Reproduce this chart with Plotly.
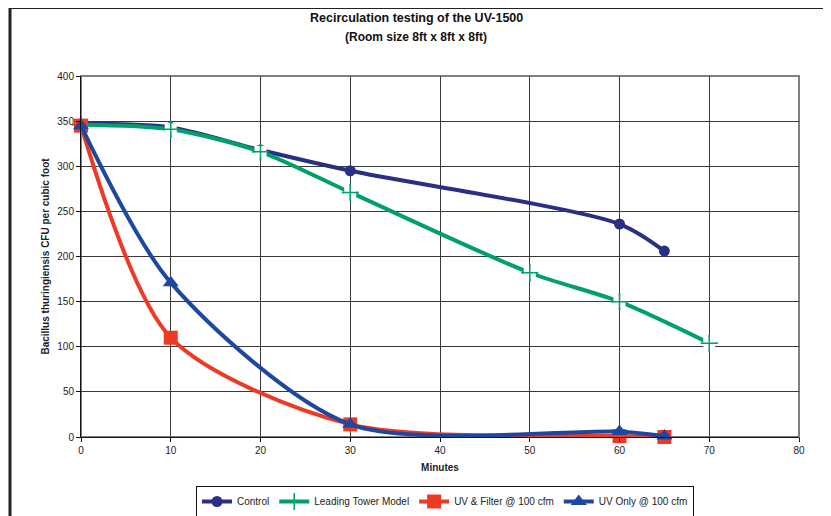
import plotly.graph_objects as go

minutes_control = [0, 10, 20, 30, 60, 65]
control = [347, 343, 318, 295, 236, 206]

minutes_tower = [0, 10, 20, 30, 50, 60, 70]
tower = [346, 341, 316, 271, 182, 150, 104]

minutes_uv = [0, 10, 30, 60, 65]
uv_filter = [345, 110, 14, 1, 0]
uv_only = [345, 171, 14, 6, 1]

x_ticks = [0, 10, 20, 30, 40, 50, 60, 70, 80]
y_ticks = [0, 50, 100, 150, 200, 250, 300, 350, 400]

title_lines = ["Recirculation testing of the UV-1500", "(Room size 8ft x 8ft x 8ft)"]

navy = "#2A2F86"
green = "#00A06A"
red = "#EE3A24"
blue = "#1E48A0"

fig = go.Figure()
fig.add_trace(go.Scatter(x=minutes_control, y=control, name="Control", mode="lines+markers",
                         line=dict(color=navy, width=4, shape="spline", smoothing=0.8),
                         marker=dict(symbol="circle", size=11, color=navy), cliponaxis=False))
fig.add_trace(go.Scatter(x=minutes_tower, y=tower, name="Leading Tower Model", mode="lines+markers",
                         line=dict(color=green, width=4, shape="spline", smoothing=0.8),
                         marker=dict(symbol="cross-thin", size=12, color=green,
                                     line=dict(color=green, width=1.5)), cliponaxis=False))
# white box behind each plus marker (as in the original)
fig.add_trace(go.Scatter(x=minutes_tower, y=tower, mode="markers", showlegend=False, hoverinfo="skip",
                         marker=dict(symbol="square", size=12, color="white"), cliponaxis=False))
fig.add_trace(go.Scatter(x=minutes_tower, y=tower, mode="markers", showlegend=False, hoverinfo="skip",
                         marker=dict(symbol="cross-thin", size=12, color=green,
                                     line=dict(color=green, width=1.5)), cliponaxis=False))
fig.add_trace(go.Scatter(x=minutes_uv, y=uv_filter, name="UV & Filter @ 100 cfm", mode="lines+markers",
                         line=dict(color=red, width=4, shape="spline", smoothing=0.8),
                         marker=dict(symbol="square", size=14, color=red), cliponaxis=False))
fig.add_trace(go.Scatter(x=minutes_uv, y=uv_only, name="UV Only @ 100 cfm", mode="lines+markers",
                         line=dict(color=blue, width=4, shape="spline", smoothing=0.8),
                         marker=dict(symbol="triangle-up", size=14, color=blue), cliponaxis=False))

# page has an 8px body margin; positions below are in page pixels
L, R, T, B = 73, 32, 68, 79
W, H = 823, 508
PL, PB = 81, 437
pw, ph = 718, 361

def px(xp):
    return (xp - PL) / pw

def py(yp):
    return (PB - yp) / ph

shapes = [
    dict(type="rect", xref="paper", yref="paper", x0=0, x1=1, y0=0, y1=1,
         line=dict(color="#808080", width=2), layer="below"),
    dict(type="line", xref="paper", yref="paper", x0=px(9), x1=px(840), y0=py(7.5), y1=py(7.5),
         line=dict(color="#222222", width=3)),
    dict(type="line", xref="paper", yref="paper", x0=px(10), x1=px(10), y0=py(7.5), y1=py(530),
         line=dict(color="#222222", width=3)),
]

annotations = [
    dict(text="<b>%s</b>" % title_lines[0], xref="paper", yref="paper", x=px(416), y=py(18),
         xanchor="center", yanchor="middle", showarrow=False, font=dict(size=12.5, color="#111111")),
    dict(text="<b>%s</b>" % title_lines[1], xref="paper", yref="paper", x=px(416), y=py(37),
         xanchor="center", yanchor="middle", showarrow=False, font=dict(size=12, color="#111111")),
]

fig.update_layout(
    width=W, height=H,
    margin=dict(l=L, r=R, t=T, b=B, autoexpand=False),
    paper_bgcolor="white", plot_bgcolor="white",
    font=dict(family="Liberation Sans, Arial, sans-serif", size=10, color="#222222"),
    xaxis=dict(range=[0, 80], tickvals=x_ticks, showgrid=True, gridcolor="#3a3a3a", gridwidth=1,
               zeroline=False, showline=True, linecolor="#111111", linewidth=1,
               ticks="outside", ticklen=4, tickcolor="#111111",
               title=dict(text="<b>Minutes</b>", font=dict(size=10), standoff=8)),
    yaxis=dict(range=[0, 400], tickvals=y_ticks, showgrid=True, gridcolor="#3a3a3a", gridwidth=1,
               zeroline=False, showline=True, linecolor="#111111", linewidth=1,
               ticks="outside", ticklen=4, tickcolor="#111111",
               title=dict(text="<b>Bacillus thuringiensis CFU per cubic foot</b>", font=dict(size=10), standoff=5)),
    legend=dict(orientation="h", x=px(445), xanchor="center", y=py(486), yanchor="top",
                bordercolor="#111111", borderwidth=1, bgcolor="white",
                font=dict(size=10), itemwidth=30, tracegroupgap=0),
    shapes=shapes,
    annotations=annotations,
    showlegend=True,
)

fig.write_html("out.html")
